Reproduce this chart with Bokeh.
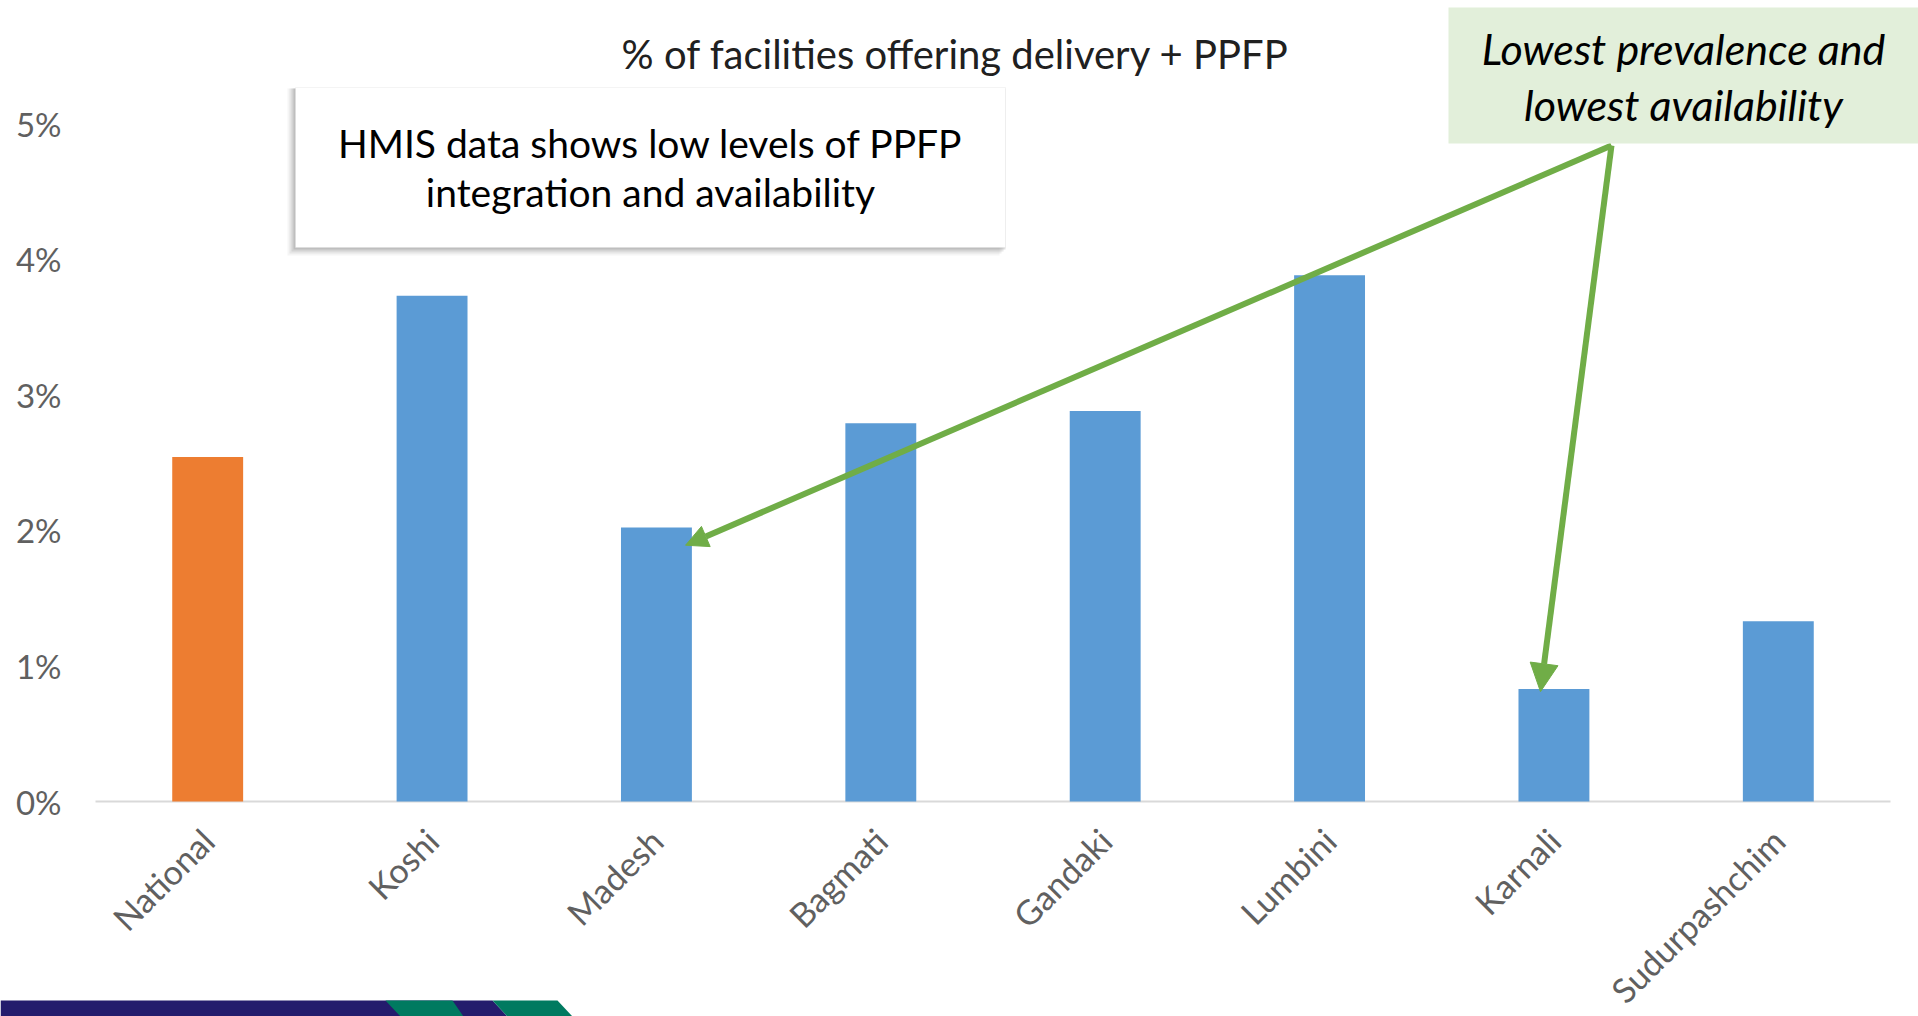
import math
from bokeh.plotting import figure
from bokeh.models import (Range1d, FixedTicker, PrintfTickFormatter,
                          Label, BoxAnnotation, PolyAnnotation, Arrow, NormalHead,
                          ColumnDataSource)
from bokeh.embed import file_html
from bokeh.resources import INLINE

# ---------------- data ----------------
categories = ["National", "Koshi", "Madesh", "Bagmati", "Gandaki", "Lumbini", "Karnali", "Sudurpashchim"]
values_pct = [2.54, 3.73, 2.02, 2.79, 2.88, 3.88, 0.83, 1.33]
bar_colors = ["#ED7D31", "#5B9BD5", "#5B9BD5", "#5B9BD5", "#5B9BD5", "#5B9BD5", "#5B9BD5", "#5B9BD5"]
y_ticks = [0, 1, 2, 3, 4, 5]
title_text = "% of facilities offering delivery + PPFP"
box_lines = ["HMIS data shows low levels of PPFP", "integration and availability"]
callout_lines = ["Lowest prevalence and", "lowest availability"]

FONT = "Lato"
GRAY = "#606060"
GREEN = "#70AD47"

# ---------------- layout helpers ----------------
W, H = 1918, 1016
CAT_PX = 224.375      # pixels per category
PCT_PX = 135.6        # pixels per 1 %
X0_PX, Y0_PX = 95, 801  # page px of plot-area left edge / 0 % baseline
BASE_FIX = 14           # label baseline correction (px)


def dx(px):
    """page pixel -> x data (bars at integer positions)"""
    return (px - X0_PX) / CAT_PX - 0.5


def dy(py):
    """page pixel -> y data (percent)"""
    return (Y0_PX - py) / PCT_PX


def dyb(py):
    """text baseline page pixel -> y data"""
    return dy(py - BASE_FIX)


n = len(categories)
xpos = list(range(n))

p = figure(x_range=Range1d(dx(0), dx(W)),
           y_range=Range1d(dy(H), dy(0)),
           width=W, height=H, output_backend="svg", toolbar_location=None,
           min_border=0, min_border_left=0, min_border_right=0,
           min_border_top=0, min_border_bottom=0)
p.outline_line_color = None
p.background_fill_color = "white"
p.border_fill_color = "white"
p.xgrid.grid_line_color = None
p.ygrid.grid_line_color = None

src = ColumnDataSource(dict(x=xpos, cat=categories, val=values_pct, color=bar_colors))

# baseline (0 %) across the category area
p.segment(x0=[-0.5], x1=[n - 0.5], y0=[0], y1=[0], line_color="#D9D9D9", line_width=2)

p.vbar(x="x", top="val", width=0.316, bottom=0, source=src,
       fill_color="color", line_color=None)

# y axis, fixed at the left edge of the category area
p.yaxis.fixed_location = -0.5
p.yaxis.ticker = FixedTicker(ticks=y_ticks)
p.yaxis.formatter = PrintfTickFormatter(format="%d%%")
p.yaxis.axis_line_color = None
p.yaxis.major_tick_line_color = None
p.yaxis.minor_tick_line_color = None
p.yaxis.major_tick_out = 0
p.yaxis.major_tick_in = 0
p.yaxis.major_label_standoff = 34
p.yaxis.major_label_text_font = FONT
p.yaxis.major_label_text_font_size = "33px"
p.yaxis.major_label_text_color = GRAY

# x axis, fixed at 0 %
p.xaxis.fixed_location = 0
p.xaxis.ticker = FixedTicker(ticks=xpos)
p.xaxis.major_label_overrides = {i: c for i, c in zip(xpos, categories)}
p.xaxis.axis_line_color = None
p.xaxis.major_tick_line_color = None
p.xaxis.minor_tick_line_color = None
p.xaxis.major_tick_out = 0
p.xaxis.major_tick_in = 0
p.xaxis.major_label_orientation = math.pi / 4
p.xaxis.major_label_standoff = 33
p.xaxis.major_label_text_font = FONT
p.xaxis.major_label_text_font_size = "34px"
p.xaxis.major_label_text_color = GRAY

# title
p.add_layout(Label(x=dx(955), y=dyb(67), text=title_text, text_align="center",
                   text_baseline="alphabetic", text_font=FONT, text_font_size="40px",
                   text_color="#202020"))

# HMIS box with soft shadow
for off, alpha in [(8, 0.08), (6, 0.12), (4, 0.18), (2, 0.25)]:
    p.add_layout(BoxAnnotation(left=dx(295 - off), right=dx(1005 - off + 2),
                               top=dy(87 + 1), bottom=dy(247 + off),
                               fill_color="#7f7f7f", fill_alpha=alpha, line_color=None,
                               level="overlay"))
p.add_layout(BoxAnnotation(left=dx(295), right=dx(1005), top=dy(87), bottom=dy(247),
                           fill_color="white", fill_alpha=1, line_color="#d9d9d9",
                           line_width=1, level="overlay"))
p.add_layout(Label(x=dx(650), y=dyb(156), text=box_lines[0], text_align="center",
                   text_baseline="alphabetic", text_font=FONT, text_font_size="39px",
                   text_color="black", level="overlay"))
p.add_layout(Label(x=dx(650), y=dyb(205), text=box_lines[1], text_align="center",
                   text_baseline="alphabetic", text_font=FONT, text_font_size="39px",
                   text_color="black", level="overlay"))

# green callout
p.add_layout(BoxAnnotation(left=dx(1448), right=dx(1930), top=dy(7), bottom=dy(143),
                           fill_color="#E2EFDA", fill_alpha=1, line_color=None, level="overlay"))
p.add_layout(Label(x=dx(1683), y=dyb(62), text=callout_lines[0], text_align="center",
                   text_baseline="alphabetic", text_font=FONT, text_font_style="italic",
                   text_font_size="43px", text_color="black", level="overlay"))
p.add_layout(Label(x=dx(1683), y=dyb(118), text=callout_lines[1], text_align="center",
                   text_baseline="alphabetic", text_font=FONT, text_font_style="italic",
                   text_font_size="43px", text_color="black", level="overlay"))

# arrows pointing at the Madesh and Karnali bars
i_m = categories.index("Madesh")
i_k = categories.index("Karnali")
p.add_layout(Arrow(x_start=dx(1611), y_start=dy(145),
                   x_end=xpos[i_m] + 0.13, y_end=values_pct[i_m] - 0.13,
                   line_color=GREEN, line_width=6,
                   end=NormalHead(size=22, fill_color=GREEN, line_color=GREEN)))
p.add_layout(Arrow(x_start=dx(1611), y_start=dy(145),
                   x_end=xpos[i_k] - 0.06, y_end=values_pct[i_k] - 0.02,
                   line_color=GREEN, line_width=6,
                   end=NormalHead(size=28, fill_color=GREEN, line_color=GREEN)))

# bottom decorative band
p.add_layout(PolyAnnotation(xs=[dx(0), dx(492), dx(507), dx(0)],
                            ys=[dy(1000), dy(1000), dy(1016), dy(1016)],
                            fill_color="#241C6D", fill_alpha=1, line_color=None))
p.add_layout(PolyAnnotation(xs=[dx(385), dx(452), dx(463), dx(400)],
                            ys=[dy(1000), dy(1000), dy(1016), dy(1016)],
                            fill_color="#007A60", fill_alpha=1, line_color=None))
p.add_layout(PolyAnnotation(xs=[dx(492), dx(557), dx(572), dx(507)],
                            ys=[dy(1000), dy(1000), dy(1016), dy(1016)],
                            fill_color="#007A60", fill_alpha=1, line_color=None))

open("out.html", "w").write(file_html(p, INLINE))
